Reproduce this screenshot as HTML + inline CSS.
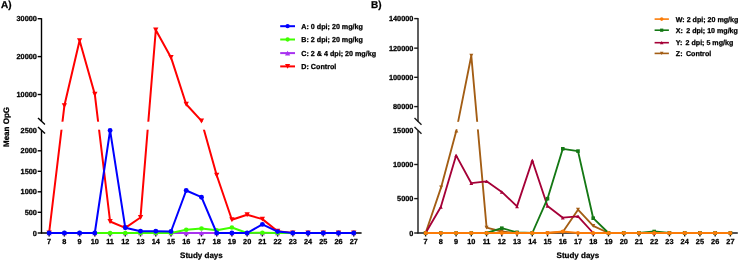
<!DOCTYPE html>
<html><head><meta charset="utf-8"><title>chart</title>
<style>html,body{margin:0;padding:0;background:#fff;}svg{display:block;will-change:transform;}text{text-rendering:geometricPrecision;stroke:#000;stroke-width:0.26px;stroke-linejoin:round;}</style></head><body>
<svg width="740" height="262" viewBox="0 0 740 262" font-family="Liberation Sans, sans-serif" font-weight="bold" fill="#000">
<rect width="740" height="262" fill="#fff"/>
<text x="1.0" y="8.2" font-size="10" text-anchor="start" >A)</text>
<g stroke="#000" stroke-width="1.4" fill="none">
<line x1="41.5" y1="18.2" x2="41.5" y2="121.2"/>
<line x1="41.5" y1="130.3" x2="41.5" y2="233.5"/>
<line x1="41.0" y1="233.0" x2="361.6" y2="233.0"/>
<line x1="38.0" y1="117.9" x2="45.0" y2="124.5"/>
<line x1="38.0" y1="127.00000000000001" x2="45.0" y2="133.60000000000002"/>
<line x1="37.7" y1="18.7" x2="41.5" y2="18.7"/>
<line x1="37.7" y1="56.6" x2="41.5" y2="56.6"/>
<line x1="37.7" y1="94.5" x2="41.5" y2="94.5"/>
<line x1="37.7" y1="150.8" x2="41.5" y2="150.8"/>
<line x1="37.7" y1="171.3" x2="41.5" y2="171.3"/>
<line x1="37.7" y1="191.8" x2="41.5" y2="191.8"/>
<line x1="37.7" y1="212.3" x2="41.5" y2="212.3"/>
<line x1="37.7" y1="233.0" x2="41.5" y2="233.0"/>
<line x1="49.15" y1="233.0" x2="49.15" y2="236.5"/>
<line x1="64.38" y1="233.0" x2="64.38" y2="236.5"/>
<line x1="79.61" y1="233.0" x2="79.61" y2="236.5"/>
<line x1="94.84" y1="233.0" x2="94.84" y2="236.5"/>
<line x1="110.07" y1="233.0" x2="110.07" y2="236.5"/>
<line x1="125.30" y1="233.0" x2="125.30" y2="236.5"/>
<line x1="140.53" y1="233.0" x2="140.53" y2="236.5"/>
<line x1="155.76" y1="233.0" x2="155.76" y2="236.5"/>
<line x1="170.99" y1="233.0" x2="170.99" y2="236.5"/>
<line x1="186.22" y1="233.0" x2="186.22" y2="236.5"/>
<line x1="201.45" y1="233.0" x2="201.45" y2="236.5"/>
<line x1="216.68" y1="233.0" x2="216.68" y2="236.5"/>
<line x1="231.91" y1="233.0" x2="231.91" y2="236.5"/>
<line x1="247.14" y1="233.0" x2="247.14" y2="236.5"/>
<line x1="262.37" y1="233.0" x2="262.37" y2="236.5"/>
<line x1="277.60" y1="233.0" x2="277.60" y2="236.5"/>
<line x1="292.83" y1="233.0" x2="292.83" y2="236.5"/>
<line x1="308.06" y1="233.0" x2="308.06" y2="236.5"/>
<line x1="323.29" y1="233.0" x2="323.29" y2="236.5"/>
<line x1="338.52" y1="233.0" x2="338.52" y2="236.5"/>
<line x1="353.75" y1="233.0" x2="353.75" y2="236.5"/>
</g>
<text x="36.9" y="21.25" font-size="7.35" text-anchor="end" >30000</text>
<text x="36.9" y="59.15" font-size="7.35" text-anchor="end" >20000</text>
<text x="36.9" y="97.05" font-size="7.35" text-anchor="end" >10000</text>
<text x="36.9" y="132.85000000000002" font-size="7.35" text-anchor="end" >2500</text>
<text x="36.9" y="153.35000000000002" font-size="7.35" text-anchor="end" >2000</text>
<text x="36.9" y="173.85000000000002" font-size="7.35" text-anchor="end" >1500</text>
<text x="36.9" y="194.35000000000002" font-size="7.35" text-anchor="end" >1000</text>
<text x="36.9" y="214.85000000000002" font-size="7.35" text-anchor="end" >500</text>
<text x="36.9" y="235.55" font-size="7.35" text-anchor="end" >0</text>
<text x="49.15" y="243.6" font-size="7.35" text-anchor="middle" >7</text>
<text x="64.38" y="243.6" font-size="7.35" text-anchor="middle" >8</text>
<text x="79.61" y="243.6" font-size="7.35" text-anchor="middle" >9</text>
<text x="94.84" y="243.6" font-size="7.35" text-anchor="middle" >10</text>
<text x="110.07" y="243.6" font-size="7.35" text-anchor="middle" >11</text>
<text x="125.30" y="243.6" font-size="7.35" text-anchor="middle" >12</text>
<text x="140.53" y="243.6" font-size="7.35" text-anchor="middle" >13</text>
<text x="155.76" y="243.6" font-size="7.35" text-anchor="middle" >14</text>
<text x="170.99" y="243.6" font-size="7.35" text-anchor="middle" >15</text>
<text x="186.22" y="243.6" font-size="7.35" text-anchor="middle" >16</text>
<text x="201.45" y="243.6" font-size="7.35" text-anchor="middle" >17</text>
<text x="216.68" y="243.6" font-size="7.35" text-anchor="middle" >18</text>
<text x="231.91" y="243.6" font-size="7.35" text-anchor="middle" >19</text>
<text x="247.14" y="243.6" font-size="7.35" text-anchor="middle" >20</text>
<text x="262.37" y="243.6" font-size="7.35" text-anchor="middle" >21</text>
<text x="277.60" y="243.6" font-size="7.35" text-anchor="middle" >22</text>
<text x="292.83" y="243.6" font-size="7.35" text-anchor="middle" >23</text>
<text x="308.06" y="243.6" font-size="7.35" text-anchor="middle" >24</text>
<text x="323.29" y="243.6" font-size="7.35" text-anchor="middle" >25</text>
<text x="338.52" y="243.6" font-size="7.35" text-anchor="middle" >26</text>
<text x="353.75" y="243.6" font-size="7.35" text-anchor="middle" >27</text>
<polyline points="49.1,233.0 64.4,105.6 79.6,40.6 94.8,94.2 110.1,221.5 125.3,227.8 140.5,217.5 155.8,30.0 171.0,57.4 186.2,104.3 201.5,120.9 216.7,175.3 231.9,219.8 247.1,214.8 262.4,219.1 277.6,231.3 292.8,233.0 308.1,233.0 323.3,233.0 338.5,233.0 353.8,233.0" fill="none" stroke="#ff0000" stroke-width="2.0" stroke-linejoin="round" stroke-linecap="butt"/>
<rect x="45.5" y="121.7" width="320" height="8.0" fill="#fff"/>
<path d="M46.50,230.56 L51.80,230.56 L49.15,235.52 Z" fill="#ff0000"/>
<path d="M61.73,103.16 L67.03,103.16 L64.38,108.12 Z" fill="#ff0000"/>
<path d="M76.96,38.16 L82.26,38.16 L79.61,43.12 Z" fill="#ff0000"/>
<path d="M92.19,91.76 L97.49,91.76 L94.84,96.72 Z" fill="#ff0000"/>
<path d="M107.42,219.06 L112.72,219.06 L110.07,224.02 Z" fill="#ff0000"/>
<path d="M122.65,225.36 L127.95,225.36 L125.30,230.32 Z" fill="#ff0000"/>
<path d="M137.88,215.06 L143.18,215.06 L140.53,220.02 Z" fill="#ff0000"/>
<path d="M153.11,27.56 L158.41,27.56 L155.76,32.52 Z" fill="#ff0000"/>
<path d="M168.34,54.96 L173.64,54.96 L170.99,59.92 Z" fill="#ff0000"/>
<path d="M183.57,101.86 L188.87,101.86 L186.22,106.82 Z" fill="#ff0000"/>
<path d="M198.80,118.46 L204.10,118.46 L201.45,123.42 Z" fill="#ff0000"/>
<path d="M214.03,172.86 L219.33,172.86 L216.68,177.82 Z" fill="#ff0000"/>
<path d="M229.26,217.36 L234.56,217.36 L231.91,222.32 Z" fill="#ff0000"/>
<path d="M244.49,212.36 L249.79,212.36 L247.14,217.32 Z" fill="#ff0000"/>
<path d="M259.72,216.66 L265.02,216.66 L262.37,221.62 Z" fill="#ff0000"/>
<path d="M274.95,228.86 L280.25,228.86 L277.60,233.82 Z" fill="#ff0000"/>
<path d="M290.18,230.56 L295.48,230.56 L292.83,235.52 Z" fill="#ff0000"/>
<path d="M305.41,230.56 L310.71,230.56 L308.06,235.52 Z" fill="#ff0000"/>
<path d="M320.64,230.56 L325.94,230.56 L323.29,235.52 Z" fill="#ff0000"/>
<path d="M335.87,230.56 L341.17,230.56 L338.52,235.52 Z" fill="#ff0000"/>
<path d="M351.10,230.56 L356.40,230.56 L353.75,235.52 Z" fill="#ff0000"/>
<polyline points="49.1,233.0 64.4,233.0 79.6,233.0 94.8,233.0 110.1,233.0 125.3,233.0 140.5,233.0 155.8,233.0 171.0,233.0 186.2,233.0 201.5,233.0 216.7,233.0 231.9,233.0 247.1,233.0 262.4,233.0 277.6,233.0 292.8,233.0 308.1,233.0 323.3,233.0 338.5,233.0 353.8,233.0" fill="none" stroke="#a832f0" stroke-width="2.0" stroke-linejoin="round" stroke-linecap="butt"/>
<path d="M46.60,235.35 L51.70,235.35 L49.15,230.76 Z" fill="#a832f0"/>
<path d="M61.83,235.35 L66.93,235.35 L64.38,230.76 Z" fill="#a832f0"/>
<path d="M77.06,235.35 L82.16,235.35 L79.61,230.76 Z" fill="#a832f0"/>
<path d="M92.29,235.35 L97.39,235.35 L94.84,230.76 Z" fill="#a832f0"/>
<path d="M107.52,235.35 L112.62,235.35 L110.07,230.76 Z" fill="#a832f0"/>
<path d="M122.75,235.35 L127.85,235.35 L125.30,230.76 Z" fill="#a832f0"/>
<path d="M137.98,235.35 L143.08,235.35 L140.53,230.76 Z" fill="#a832f0"/>
<path d="M153.21,235.35 L158.31,235.35 L155.76,230.76 Z" fill="#a832f0"/>
<path d="M168.44,235.35 L173.54,235.35 L170.99,230.76 Z" fill="#a832f0"/>
<path d="M183.67,235.35 L188.77,235.35 L186.22,230.76 Z" fill="#a832f0"/>
<path d="M198.90,235.35 L204.00,235.35 L201.45,230.76 Z" fill="#a832f0"/>
<path d="M214.13,235.35 L219.23,235.35 L216.68,230.76 Z" fill="#a832f0"/>
<path d="M229.36,235.35 L234.46,235.35 L231.91,230.76 Z" fill="#a832f0"/>
<path d="M244.59,235.35 L249.69,235.35 L247.14,230.76 Z" fill="#a832f0"/>
<path d="M259.82,235.35 L264.92,235.35 L262.37,230.76 Z" fill="#a832f0"/>
<path d="M275.05,235.35 L280.15,235.35 L277.60,230.76 Z" fill="#a832f0"/>
<path d="M290.28,235.35 L295.38,235.35 L292.83,230.76 Z" fill="#a832f0"/>
<path d="M305.51,235.35 L310.61,235.35 L308.06,230.76 Z" fill="#a832f0"/>
<path d="M320.74,235.35 L325.84,235.35 L323.29,230.76 Z" fill="#a832f0"/>
<path d="M335.97,235.35 L341.07,235.35 L338.52,230.76 Z" fill="#a832f0"/>
<path d="M351.20,235.35 L356.30,235.35 L353.75,230.76 Z" fill="#a832f0"/>
<polyline points="49.1,233.0 64.4,233.0 79.6,233.0 94.8,233.0 110.1,233.0 125.3,233.0 140.5,233.0 155.8,233.0 171.0,233.0 186.2,229.7 201.5,228.5 216.7,230.3 231.9,227.5 247.1,233.0 262.4,232.7 277.6,233.0 292.8,233.0 308.1,233.0 323.3,233.0 338.5,233.0 353.8,233.0" fill="none" stroke="#40ff00" stroke-width="2.0" stroke-linejoin="round" stroke-linecap="butt"/>
<circle cx="49.1" cy="233.0" r="2.3" fill="#40ff00"/>
<circle cx="64.4" cy="233.0" r="2.3" fill="#40ff00"/>
<circle cx="79.6" cy="233.0" r="2.3" fill="#40ff00"/>
<circle cx="94.8" cy="233.0" r="2.3" fill="#40ff00"/>
<circle cx="110.1" cy="233.0" r="2.3" fill="#40ff00"/>
<circle cx="125.3" cy="233.0" r="2.3" fill="#40ff00"/>
<circle cx="140.5" cy="233.0" r="2.3" fill="#40ff00"/>
<circle cx="155.8" cy="233.0" r="2.3" fill="#40ff00"/>
<circle cx="171.0" cy="233.0" r="2.3" fill="#40ff00"/>
<circle cx="186.2" cy="229.7" r="2.3" fill="#40ff00"/>
<circle cx="201.5" cy="228.5" r="2.3" fill="#40ff00"/>
<circle cx="216.7" cy="230.3" r="2.3" fill="#40ff00"/>
<circle cx="231.9" cy="227.5" r="2.3" fill="#40ff00"/>
<circle cx="247.1" cy="233.0" r="2.3" fill="#40ff00"/>
<circle cx="262.4" cy="232.7" r="2.3" fill="#40ff00"/>
<circle cx="277.6" cy="233.0" r="2.3" fill="#40ff00"/>
<circle cx="292.8" cy="233.0" r="2.3" fill="#40ff00"/>
<circle cx="308.1" cy="233.0" r="2.3" fill="#40ff00"/>
<circle cx="323.3" cy="233.0" r="2.3" fill="#40ff00"/>
<circle cx="338.5" cy="233.0" r="2.3" fill="#40ff00"/>
<circle cx="353.8" cy="233.0" r="2.3" fill="#40ff00"/>
<polyline points="49.1,233.0 64.4,233.0 79.6,233.0 94.8,233.0 110.1,130.4 125.3,227.8 140.5,231.3 155.8,231.3 171.0,231.5 186.2,190.5 201.5,197.2 216.7,233.0 231.9,233.0 247.1,233.0 262.4,224.4 277.6,231.6 292.8,233.0 308.1,233.0 323.3,233.0 338.5,233.0 353.8,233.0" fill="none" stroke="#0000ff" stroke-width="2.0" stroke-linejoin="round" stroke-linecap="butt"/>
<circle cx="49.1" cy="233.0" r="2.45" fill="#0000ff"/>
<circle cx="64.4" cy="233.0" r="2.45" fill="#0000ff"/>
<circle cx="79.6" cy="233.0" r="2.45" fill="#0000ff"/>
<circle cx="94.8" cy="233.0" r="2.45" fill="#0000ff"/>
<circle cx="110.1" cy="130.4" r="2.45" fill="#0000ff"/>
<circle cx="125.3" cy="227.8" r="2.45" fill="#0000ff"/>
<circle cx="140.5" cy="231.3" r="2.45" fill="#0000ff"/>
<circle cx="155.8" cy="231.3" r="2.45" fill="#0000ff"/>
<circle cx="171.0" cy="231.5" r="2.45" fill="#0000ff"/>
<circle cx="186.2" cy="190.5" r="2.45" fill="#0000ff"/>
<circle cx="201.5" cy="197.2" r="2.45" fill="#0000ff"/>
<circle cx="216.7" cy="233.0" r="2.45" fill="#0000ff"/>
<circle cx="231.9" cy="233.0" r="2.45" fill="#0000ff"/>
<circle cx="247.1" cy="233.0" r="2.45" fill="#0000ff"/>
<circle cx="262.4" cy="224.4" r="2.45" fill="#0000ff"/>
<circle cx="277.6" cy="231.6" r="2.45" fill="#0000ff"/>
<circle cx="292.8" cy="233.0" r="2.45" fill="#0000ff"/>
<circle cx="308.1" cy="233.0" r="2.45" fill="#0000ff"/>
<circle cx="323.3" cy="233.0" r="2.45" fill="#0000ff"/>
<circle cx="338.5" cy="233.0" r="2.45" fill="#0000ff"/>
<circle cx="353.8" cy="233.0" r="2.45" fill="#0000ff"/>
<text x="201.4" y="257.8" font-size="8" text-anchor="middle" >Study days</text>
<text transform="translate(9.0,127) rotate(-90)" font-size="8" text-anchor="middle">Mean OpG</text>
<line x1="280.2" y1="26.2" x2="295" y2="26.2" stroke="#0000ff" stroke-width="2"/>
<circle cx="287.6" cy="26.2" r="2.15" fill="#0000ff"/>
<text x="301.3" y="28.65" font-size="7.17" text-anchor="start" >A: 0 dpi; 20 mg/kg</text>
<line x1="280.2" y1="39.5" x2="295" y2="39.5" stroke="#40ff00" stroke-width="2"/>
<circle cx="287.6" cy="39.5" r="2.15" fill="#40ff00"/>
<text x="301.3" y="41.95" font-size="7.17" text-anchor="start" >B: 2 dpi; 20 mg/kg</text>
<line x1="280.2" y1="53.1" x2="295" y2="53.1" stroke="#a832f0" stroke-width="2"/>
<path d="M285.00,55.49 L290.20,55.49 L287.60,50.81 Z" fill="#a832f0"/>
<text x="301.3" y="55.550000000000004" font-size="7.17" text-anchor="start" >C: 2 &amp; 4 dpi; 20 mg/kg</text>
<line x1="280.2" y1="66.4" x2="295" y2="66.4" stroke="#ff0000" stroke-width="2"/>
<path d="M285.00,64.01 L290.20,64.01 L287.60,68.87 Z" fill="#ff0000"/>
<text x="301.3" y="68.85000000000001" font-size="7.17" text-anchor="start" >D: Control</text>
<text x="371.0" y="8.2" font-size="10" text-anchor="start" >B)</text>
<g stroke="#1a1a1a" stroke-width="1.4" fill="none">
<line x1="418.0" y1="18.1" x2="418.0" y2="121.4"/>
<line x1="418.0" y1="130.4" x2="418.0" y2="233.5"/>
<line x1="417.5" y1="233.0" x2="737.8" y2="233.0"/>
<line x1="414.5" y1="118.10000000000001" x2="421.5" y2="124.7"/>
<line x1="414.5" y1="127.10000000000001" x2="421.5" y2="133.70000000000002"/>
<line x1="414.2" y1="18.6" x2="418.0" y2="18.6"/>
<line x1="414.2" y1="48.15" x2="418.0" y2="48.15"/>
<line x1="414.2" y1="77.3" x2="418.0" y2="77.3"/>
<line x1="414.2" y1="106.6" x2="418.0" y2="106.6"/>
<line x1="414.2" y1="164.5" x2="418.0" y2="164.5"/>
<line x1="414.2" y1="198.6" x2="418.0" y2="198.6"/>
<line x1="414.2" y1="233.0" x2="418.0" y2="233.0"/>
<line x1="425.60" y1="233.0" x2="425.60" y2="236.5"/>
<line x1="440.84" y1="233.0" x2="440.84" y2="236.5"/>
<line x1="456.08" y1="233.0" x2="456.08" y2="236.5"/>
<line x1="471.32" y1="233.0" x2="471.32" y2="236.5"/>
<line x1="486.56" y1="233.0" x2="486.56" y2="236.5"/>
<line x1="501.80" y1="233.0" x2="501.80" y2="236.5"/>
<line x1="517.04" y1="233.0" x2="517.04" y2="236.5"/>
<line x1="532.28" y1="233.0" x2="532.28" y2="236.5"/>
<line x1="547.52" y1="233.0" x2="547.52" y2="236.5"/>
<line x1="562.76" y1="233.0" x2="562.76" y2="236.5"/>
<line x1="578.00" y1="233.0" x2="578.00" y2="236.5"/>
<line x1="593.24" y1="233.0" x2="593.24" y2="236.5"/>
<line x1="608.48" y1="233.0" x2="608.48" y2="236.5"/>
<line x1="623.72" y1="233.0" x2="623.72" y2="236.5"/>
<line x1="638.96" y1="233.0" x2="638.96" y2="236.5"/>
<line x1="654.20" y1="233.0" x2="654.20" y2="236.5"/>
<line x1="669.44" y1="233.0" x2="669.44" y2="236.5"/>
<line x1="684.68" y1="233.0" x2="684.68" y2="236.5"/>
<line x1="699.92" y1="233.0" x2="699.92" y2="236.5"/>
<line x1="715.16" y1="233.0" x2="715.16" y2="236.5"/>
<line x1="730.40" y1="233.0" x2="730.40" y2="236.5"/>
</g>
<text x="413.4" y="21.150000000000002" font-size="7.35" text-anchor="end" >140000</text>
<text x="413.4" y="50.699999999999996" font-size="7.35" text-anchor="end" >120000</text>
<text x="413.4" y="79.85" font-size="7.35" text-anchor="end" >100000</text>
<text x="413.4" y="109.14999999999999" font-size="7.35" text-anchor="end" >80000</text>
<text x="413.4" y="132.95000000000002" font-size="7.35" text-anchor="end" >15000</text>
<text x="413.4" y="167.05" font-size="7.35" text-anchor="end" >10000</text>
<text x="413.4" y="201.15" font-size="7.35" text-anchor="end" >5000</text>
<text x="413.4" y="235.55" font-size="7.35" text-anchor="end" >0</text>
<text x="425.60" y="243.6" font-size="7.35" text-anchor="middle" >7</text>
<text x="440.84" y="243.6" font-size="7.35" text-anchor="middle" >8</text>
<text x="456.08" y="243.6" font-size="7.35" text-anchor="middle" >9</text>
<text x="471.32" y="243.6" font-size="7.35" text-anchor="middle" >10</text>
<text x="486.56" y="243.6" font-size="7.35" text-anchor="middle" >11</text>
<text x="501.80" y="243.6" font-size="7.35" text-anchor="middle" >12</text>
<text x="517.04" y="243.6" font-size="7.35" text-anchor="middle" >13</text>
<text x="532.28" y="243.6" font-size="7.35" text-anchor="middle" >14</text>
<text x="547.52" y="243.6" font-size="7.35" text-anchor="middle" >15</text>
<text x="562.76" y="243.6" font-size="7.35" text-anchor="middle" >16</text>
<text x="578.00" y="243.6" font-size="7.35" text-anchor="middle" >17</text>
<text x="593.24" y="243.6" font-size="7.35" text-anchor="middle" >18</text>
<text x="608.48" y="243.6" font-size="7.35" text-anchor="middle" >19</text>
<text x="623.72" y="243.6" font-size="7.35" text-anchor="middle" >20</text>
<text x="638.96" y="243.6" font-size="7.35" text-anchor="middle" >21</text>
<text x="654.20" y="243.6" font-size="7.35" text-anchor="middle" >22</text>
<text x="669.44" y="243.6" font-size="7.35" text-anchor="middle" >23</text>
<text x="684.68" y="243.6" font-size="7.35" text-anchor="middle" >24</text>
<text x="699.92" y="243.6" font-size="7.35" text-anchor="middle" >25</text>
<text x="715.16" y="243.6" font-size="7.35" text-anchor="middle" >26</text>
<text x="730.40" y="243.6" font-size="7.35" text-anchor="middle" >27</text>
<polyline points="425.6,233.0 441.1,187.4 456.4,130.4 471.3,55.7 486.6,227.7 501.8,231.5 517.0,233.0 532.3,233.0 547.5,233.0 562.8,232.0 578.0,209.7 593.2,225.9 608.5,233.0 623.7,233.0 639.0,233.0 654.2,233.0 669.4,233.0 684.7,233.0 699.9,233.0 715.2,233.0 730.4,233.0" fill="none" stroke="#a35d14" stroke-width="1.85" stroke-linejoin="round" stroke-linecap="butt"/>
<rect x="422.0" y="121.8" width="316" height="7.6" fill="#fff"/>
<path d="M423.60,231.16 L427.60,231.16 L425.60,234.90 Z" fill="#a35d14"/>
<path d="M439.14,185.56 L443.14,185.56 L441.14,189.30 Z" fill="#a35d14"/>
<path d="M454.38,132.54 L458.38,132.54 L456.38,128.94 Z" fill="#a35d14"/>
<path d="M469.32,53.86 L473.32,53.86 L471.32,57.60 Z" fill="#a35d14"/>
<path d="M484.56,225.86 L488.56,225.86 L486.56,229.60 Z" fill="#a35d14"/>
<path d="M499.80,229.66 L503.80,229.66 L501.80,233.40 Z" fill="#a35d14"/>
<path d="M515.04,231.16 L519.04,231.16 L517.04,234.90 Z" fill="#a35d14"/>
<path d="M530.28,231.16 L534.28,231.16 L532.28,234.90 Z" fill="#a35d14"/>
<path d="M545.52,231.16 L549.52,231.16 L547.52,234.90 Z" fill="#a35d14"/>
<path d="M560.76,230.16 L564.76,230.16 L562.76,233.90 Z" fill="#a35d14"/>
<path d="M576.00,207.86 L580.00,207.86 L578.00,211.60 Z" fill="#a35d14"/>
<path d="M591.24,224.06 L595.24,224.06 L593.24,227.80 Z" fill="#a35d14"/>
<path d="M606.48,231.16 L610.48,231.16 L608.48,234.90 Z" fill="#a35d14"/>
<path d="M621.72,231.16 L625.72,231.16 L623.72,234.90 Z" fill="#a35d14"/>
<path d="M636.96,231.16 L640.96,231.16 L638.96,234.90 Z" fill="#a35d14"/>
<path d="M652.20,231.16 L656.20,231.16 L654.20,234.90 Z" fill="#a35d14"/>
<path d="M667.44,231.16 L671.44,231.16 L669.44,234.90 Z" fill="#a35d14"/>
<path d="M682.68,231.16 L686.68,231.16 L684.68,234.90 Z" fill="#a35d14"/>
<path d="M697.92,231.16 L701.92,231.16 L699.92,234.90 Z" fill="#a35d14"/>
<path d="M713.16,231.16 L717.16,231.16 L715.16,234.90 Z" fill="#a35d14"/>
<path d="M728.40,231.16 L732.40,231.16 L730.40,234.90 Z" fill="#a35d14"/>
<polyline points="425.6,233.0 440.8,207.0 456.1,155.4 471.3,183.2 486.6,181.3 501.8,191.9 517.0,206.4 532.3,160.5 547.5,206.0 562.8,217.7 578.0,216.3 593.2,233.0 608.5,233.0 623.7,233.0 639.0,233.0 654.2,233.0 669.4,233.0 684.7,233.0 699.9,233.0 715.2,233.0 730.4,233.0" fill="none" stroke="#a50037" stroke-width="1.85" stroke-linejoin="round" stroke-linecap="butt"/>
<path d="M423.70,234.75 L427.50,234.75 L425.60,231.33 Z" fill="#a50037"/>
<path d="M438.94,208.75 L442.74,208.75 L440.84,205.33 Z" fill="#a50037"/>
<path d="M454.18,157.15 L457.98,157.15 L456.08,153.73 Z" fill="#a50037"/>
<path d="M469.42,184.95 L473.22,184.95 L471.32,181.53 Z" fill="#a50037"/>
<path d="M484.66,183.05 L488.46,183.05 L486.56,179.63 Z" fill="#a50037"/>
<path d="M499.90,193.65 L503.70,193.65 L501.80,190.23 Z" fill="#a50037"/>
<path d="M515.14,208.15 L518.94,208.15 L517.04,204.73 Z" fill="#a50037"/>
<path d="M530.38,162.25 L534.18,162.25 L532.28,158.83 Z" fill="#a50037"/>
<path d="M545.62,207.75 L549.42,207.75 L547.52,204.33 Z" fill="#a50037"/>
<path d="M560.86,219.45 L564.66,219.45 L562.76,216.03 Z" fill="#a50037"/>
<path d="M576.10,218.05 L579.90,218.05 L578.00,214.63 Z" fill="#a50037"/>
<path d="M591.34,234.75 L595.14,234.75 L593.24,231.33 Z" fill="#a50037"/>
<path d="M606.58,234.75 L610.38,234.75 L608.48,231.33 Z" fill="#a50037"/>
<path d="M621.82,234.75 L625.62,234.75 L623.72,231.33 Z" fill="#a50037"/>
<path d="M637.06,234.75 L640.86,234.75 L638.96,231.33 Z" fill="#a50037"/>
<path d="M652.30,234.75 L656.10,234.75 L654.20,231.33 Z" fill="#a50037"/>
<path d="M667.54,234.75 L671.34,234.75 L669.44,231.33 Z" fill="#a50037"/>
<path d="M682.78,234.75 L686.58,234.75 L684.68,231.33 Z" fill="#a50037"/>
<path d="M698.02,234.75 L701.82,234.75 L699.92,231.33 Z" fill="#a50037"/>
<path d="M713.26,234.75 L717.06,234.75 L715.16,231.33 Z" fill="#a50037"/>
<path d="M728.50,234.75 L732.30,234.75 L730.40,231.33 Z" fill="#a50037"/>
<polyline points="425.6,233.0 440.8,233.0 456.1,233.0 471.3,233.0 486.6,233.0 501.8,228.2 517.0,232.3 532.3,233.0 547.5,198.7 562.8,148.8 578.0,151.1 593.2,218.2 608.5,233.0 623.7,233.0 639.0,233.0 654.2,231.5 669.4,233.0 684.7,233.0 699.9,233.0 715.2,233.0 730.4,233.0" fill="none" stroke="#147814" stroke-width="1.85" stroke-linejoin="round" stroke-linecap="butt"/>
<rect x="423.8" y="231.2" width="3.6" height="3.6" fill="#147814"/>
<rect x="439.0" y="231.2" width="3.6" height="3.6" fill="#147814"/>
<rect x="454.3" y="231.2" width="3.6" height="3.6" fill="#147814"/>
<rect x="469.5" y="231.2" width="3.6" height="3.6" fill="#147814"/>
<rect x="484.8" y="231.2" width="3.6" height="3.6" fill="#147814"/>
<rect x="500.0" y="226.4" width="3.6" height="3.6" fill="#147814"/>
<rect x="515.2" y="230.5" width="3.6" height="3.6" fill="#147814"/>
<rect x="530.5" y="231.2" width="3.6" height="3.6" fill="#147814"/>
<rect x="545.7" y="196.9" width="3.6" height="3.6" fill="#147814"/>
<rect x="561.0" y="147.0" width="3.6" height="3.6" fill="#147814"/>
<rect x="576.2" y="149.3" width="3.6" height="3.6" fill="#147814"/>
<rect x="591.4" y="216.4" width="3.6" height="3.6" fill="#147814"/>
<rect x="606.7" y="231.2" width="3.6" height="3.6" fill="#147814"/>
<rect x="621.9" y="231.2" width="3.6" height="3.6" fill="#147814"/>
<rect x="637.2" y="231.2" width="3.6" height="3.6" fill="#147814"/>
<rect x="652.4" y="229.7" width="3.6" height="3.6" fill="#147814"/>
<rect x="667.6" y="231.2" width="3.6" height="3.6" fill="#147814"/>
<rect x="682.9" y="231.2" width="3.6" height="3.6" fill="#147814"/>
<rect x="698.1" y="231.2" width="3.6" height="3.6" fill="#147814"/>
<rect x="713.4" y="231.2" width="3.6" height="3.6" fill="#147814"/>
<rect x="728.6" y="231.2" width="3.6" height="3.6" fill="#147814"/>
<polyline points="425.6,233.0 440.8,233.0 456.1,233.0 471.3,233.0 486.6,233.0 501.8,233.0 517.0,233.0 532.3,233.0 547.5,233.0 562.8,231.5 578.0,233.0 593.2,233.0 608.5,233.0 623.7,233.0 639.0,233.0 654.2,233.0 669.4,233.0 684.7,233.0 699.9,233.0 715.2,233.0 730.4,233.0" fill="none" stroke="#fb7c08" stroke-width="2.1" stroke-linejoin="round" stroke-linecap="butt"/>
<circle cx="425.6" cy="233.0" r="2.0" fill="#fb7c08"/>
<circle cx="440.8" cy="233.0" r="2.0" fill="#fb7c08"/>
<circle cx="456.1" cy="233.0" r="2.0" fill="#fb7c08"/>
<circle cx="471.3" cy="233.0" r="2.0" fill="#fb7c08"/>
<circle cx="486.6" cy="233.0" r="2.0" fill="#fb7c08"/>
<circle cx="501.8" cy="233.0" r="2.0" fill="#fb7c08"/>
<circle cx="517.0" cy="233.0" r="2.0" fill="#fb7c08"/>
<circle cx="532.3" cy="233.0" r="2.0" fill="#fb7c08"/>
<circle cx="547.5" cy="233.0" r="2.0" fill="#fb7c08"/>
<circle cx="562.8" cy="231.5" r="2.0" fill="#fb7c08"/>
<circle cx="578.0" cy="233.0" r="2.0" fill="#fb7c08"/>
<circle cx="593.2" cy="233.0" r="2.0" fill="#fb7c08"/>
<circle cx="608.5" cy="233.0" r="2.0" fill="#fb7c08"/>
<circle cx="623.7" cy="233.0" r="2.0" fill="#fb7c08"/>
<circle cx="639.0" cy="233.0" r="2.0" fill="#fb7c08"/>
<circle cx="654.2" cy="233.0" r="2.0" fill="#fb7c08"/>
<circle cx="669.4" cy="233.0" r="2.0" fill="#fb7c08"/>
<circle cx="684.7" cy="233.0" r="2.0" fill="#fb7c08"/>
<circle cx="699.9" cy="233.0" r="2.0" fill="#fb7c08"/>
<circle cx="715.2" cy="233.0" r="2.0" fill="#fb7c08"/>
<circle cx="730.4" cy="233.0" r="2.0" fill="#fb7c08"/>
<text x="577.9" y="257.8" font-size="8" text-anchor="middle" >Study days</text>
<line x1="654.6" y1="19.1" x2="668.9" y2="19.1" stroke="#fb7c08" stroke-width="1.6"/>
<circle cx="661.7" cy="19.1" r="1.8" fill="#fb7c08"/>
<text x="675.8" y="21.700000000000003" font-size="7.1" xml:space="preserve">W: 2 dpi; 20 mg/kg</text>
<line x1="654.6" y1="30.2" x2="668.9" y2="30.2" stroke="#147814" stroke-width="1.6"/>
<rect x="660.1" y="28.6" width="3.2" height="3.2" fill="#147814"/>
<text x="675.8" y="32.8" font-size="7.1" xml:space="preserve">X: <tspan dx="1.4">2 dpi; 10 mg/kg</tspan></text>
<line x1="654.6" y1="42.7" x2="668.9" y2="42.7" stroke="#a50037" stroke-width="1.6"/>
<path d="M659.90,44.36 L663.50,44.36 L661.70,41.12 Z" fill="#a50037"/>
<text x="675.8" y="45.300000000000004" font-size="7.1" xml:space="preserve">Y: <tspan dx="1.2">2 dpi; 5 mg/kg</tspan></text>
<line x1="654.6" y1="53.4" x2="668.9" y2="53.4" stroke="#a35d14" stroke-width="1.6"/>
<path d="M659.90,51.74 L663.50,51.74 L661.70,55.11 Z" fill="#a35d14"/>
<text x="675.8" y="56.0" font-size="7.1" xml:space="preserve">Z: <tspan dx="1.5">Control</tspan></text>
</svg></body></html>
